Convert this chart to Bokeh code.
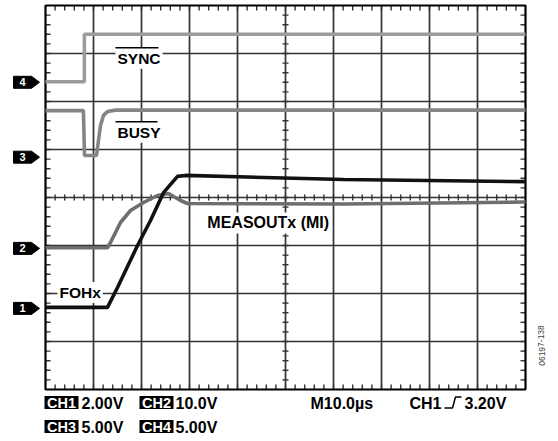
from bokeh.plotting import figure
from bokeh.models import Range1d, Label
from bokeh.embed import file_html
from bokeh.resources import INLINE
from bokeh.core.properties import value

# ---------------- data (screen divisions: x 0..10, y 0..8) ----------------
sync_x = [0, 0.81, 0.81, 10]
sync_y = [6.41, 6.41, 7.40, 7.40]

busy_x = [0, 0.79, 0.8125, 1.0625, 1.104, 1.146, 1.208, 1.292, 1.458, 10]
busy_y = [5.81, 5.81, 4.875, 4.875, 5.19, 5.50, 5.71, 5.79, 5.82, 5.82]

foh_x = [0, 1.292, 1.5, 1.917, 2.1875, 2.458, 2.75, 2.917, 6.208, 10]
foh_y = [1.71, 1.71, 2.125, 3.0, 3.52, 4.10, 4.44, 4.46, 4.375, 4.33]

meas_x = [0, 1.292, 1.354, 1.5625, 1.771, 2.042, 2.333, 2.5625, 2.8125, 2.958, 6.208, 10]
meas_y = [2.952, 2.952, 3.063, 3.479, 3.729, 3.896, 4.042, 4.083, 3.9375, 3.875, 3.865, 3.906]

marker_levels = [6.40, 4.84, 2.94, 1.69]
marker_labels = ["4", "3", "2", "1"]

n_xdiv = 10
n_ydiv = 8

# ---------------- layout ----------------
W, H = 556, 439
LEFT, TOP = 45, 5
PPX = 48.0
PPY = 48.0

def sx(px):  # screen px -> data x
    return (px - LEFT) / PPX

def sy(py):  # screen py -> data y
    return n_ydiv - (py - TOP) / PPY

p = figure(width=W, height=H, output_backend="svg", toolbar_location=None,
           x_range=Range1d(-LEFT / PPX, (W - LEFT) / PPX),
           y_range=Range1d(n_ydiv - (H - TOP) / PPY, n_ydiv + TOP / PPY),
           min_border=0, min_border_left=0, min_border_right=0,
           min_border_top=0, min_border_bottom=0)
p.axis.visible = False
p.xgrid.visible = False
p.ygrid.visible = False
p.outline_line_color = None
p.background_fill_color = "white"
p.border_fill_color = "white"

FONT_NAME = "Liberation Sans"
FONT = value(FONT_NAME)
GRID = "#333333"

# grid lines
gx0 = [i for i in range(1, n_xdiv)]
p.segment(x0=gx0, y0=[0] * len(gx0), x1=gx0, y1=[n_ydiv] * len(gx0),
          line_color=GRID, line_width=1.7)
gy0 = [j for j in range(1, n_ydiv)]
p.segment(x0=[0] * len(gy0), y0=gy0, x1=[n_xdiv] * len(gy0), y1=gy0,
          line_color=GRID, line_width=1.7)

# minor ticks
tl_x = 5 / PPX
tl_y = 5 / PPY
cl_x = 3 / PPX
cl_y = 3 / PPY
xs = [k * 0.2 for k in range(1, n_xdiv * 5)]
ys = [k * 0.2 for k in range(1, n_ydiv * 5)]
x0, y0, x1, y1 = [], [], [], []
for x in xs:
    x0 += [x, x, x]; x1 += [x, x, x]
    y0 += [n_ydiv, 0, n_ydiv / 2 - cl_y]
    y1 += [n_ydiv - tl_y, tl_y, n_ydiv / 2 + cl_y]
for y in ys:
    y0 += [y, y, y]; y1 += [y, y, y]
    x0 += [0, n_xdiv, n_xdiv / 2 - cl_x]
    x1 += [tl_x, n_xdiv - tl_x, n_xdiv / 2 + cl_x]
p.segment(x0=x0, y0=y0, x1=x1, y1=y1, line_color=GRID, line_width=1.4)

# outline
p.quad(left=[0], right=[n_xdiv], bottom=[0], top=[n_ydiv], fill_alpha=0,
       line_color="black", line_width=2.2)

# traces
p.line(sync_x, sync_y, line_color="#9c9c9c", line_width=3.6)
p.line(busy_x, busy_y, line_color="#858585", line_width=3.6)
p.line(meas_x, meas_y, line_color="#6e6e6e", line_width=3.6)
p.line(foh_x, foh_y, line_color="#111111", line_width=3.6)

# trace labels with white background
def lab(x, y, t, size):
    p.add_layout(Label(x=x, y=y, text=t, text_font=FONT_NAME, text_font_style="bold",
                       text_font_size=size, text_color="black",
                       text_align="left", text_baseline="middle",
                       background_fill_color="white", padding=2))

lab(1.458, 6.90, "SYNC", "15.5px")
lab(1.458, 5.36, "BUSY", "15.5px")
lab(3.33, 3.47, "MEASOUTx (MI)", "16px")
lab(0.25, 2.02, "FOHx", "15.5px")

# overlines
p.segment(x0=[1.458, 1.458], y0=[6.90 + 10.5 / PPY, 5.36 + 10.5 / PPY],
          x1=[1.458 + 43 / PPX, 1.458 + 42 / PPX],
          y1=[6.90 + 10.5 / PPY, 5.36 + 10.5 / PPY],
          line_color="black", line_width=1.5, level="overlay")

# channel markers
mxs, mys = [], []
for lv in marker_levels:
    h = 6 / PPY
    mxs.append([sx(13), sx(31), sx(39), sx(31), sx(13)])
    mys.append([lv + h, lv + h, lv, lv - h, lv - h])
p.patches(mxs, mys, fill_color="black", line_color="black", line_width=1)
p.text(x=[sx(22)] * 4, y=marker_levels, text=marker_labels, text_font=FONT,
       text_font_style="bold", text_font_size="11px", text_color="white",
       text_align="center", text_baseline="middle")

# bottom info text
box_l = [44, 139, 44, 139]
box_r = [78, 173, 78, 173]
row_c = [402, 402, 426, 426]
box_t = ["CH1", "CH2", "CH3", "CH4"]
p.quad(left=[sx(v) for v in box_l], right=[sx(v) for v in box_r],
       top=[sy(c - 6.5) for c in row_c], bottom=[sy(c + 6.5) for c in row_c],
       fill_color="black", line_color=None)
p.text(x=[sx((a + b) / 2) for a, b in zip(box_l, box_r)], y=[sy(c + 0.5) for c in row_c],
       text=box_t, text_font=FONT, text_font_style="bold", text_font_size="14.5px",
       text_color="white", text_align="center", text_baseline="middle")
vals_x = [81, 175, 81, 175, 310, 464]
vals_y = [402, 402, 426, 426, 402, 402]
vals_t = ["2.00V", "10.0V", "5.00V", "5.00V", "M10.0µs", "3.20V"]
p.text(x=[sx(v) for v in vals_x], y=[sy(v + 0.5) for v in vals_y], text=vals_t,
       text_font=FONT, text_font_style="bold", text_font_size="16px",
       text_color="black", text_align="left", text_baseline="middle")
p.text(x=[sx(441)], y=[sy(402.5)], text=["CH1"],
       text_font=FONT, text_font_style="bold", text_font_size="16px",
       text_color="black", text_align="right", text_baseline="middle")
# rising edge trigger symbol
p.line(x=[sx(444), sx(452), sx(455), sx(461)], y=[sy(407.5), sy(407.5), sy(396.5), sy(396.5)],
       line_color="black", line_width=1.5)

# figure id
p.text(x=[sx(541)], y=[sy(345)], text=["06197-138"], text_font=FONT,
       text_font_size="8.5px", text_color="#444444", angle=1.5708,
       text_align="center", text_baseline="middle")

open("out.html", "w").write(file_html(p, INLINE))
